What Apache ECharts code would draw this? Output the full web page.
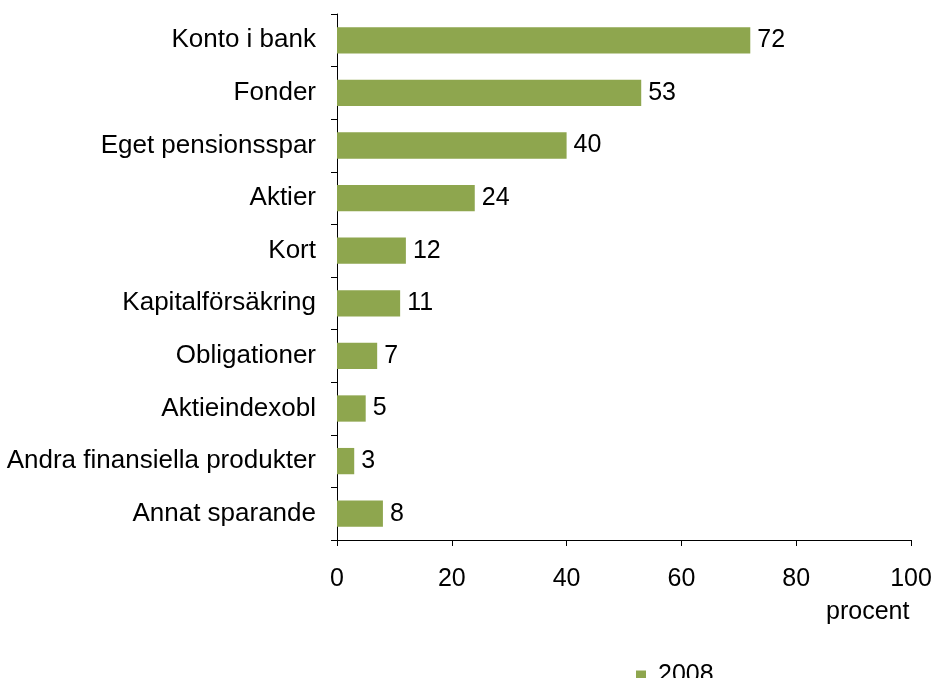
<!DOCTYPE html>
<html>
<head>
<meta charset="utf-8">
<script src="https://cdn.jsdelivr.net/npm/echarts@6/dist/echarts.min.js"></script>
<style>
html, body { margin: 0; padding: 0; background: #fff; }
#chart { width: 936px; height: 678px; }
</style>
</head>
<body>
<div id="chart"></div>
<script>
var categories = ['Konto i bank', 'Fonder', 'Eget pensionsspar', 'Aktier', 'Kort',
    'Kapitalförsäkring', 'Obligationer', 'Aktieindexobl', 'Andra finansiella produkter', 'Annat sparande'];
var values2008 = [72, 53, 40, 24, 12, 11, 7, 5, 3, 8];
var xTicks = [0, 20, 40, 60, 80, 100];

var myChart = echarts.init(document.getElementById('chart'));
var font = 'Liberation Sans, Arial, sans-serif';
var fs = 25;
option = {
    animation: false,
    textStyle: { fontFamily: font },
    grid: { left: 337, right: 25, top: 14, bottom: 138, containLabel: false },
    legend: {
        data: ['2008'],
        left: 631,
        top: 658,
        itemWidth: 10,
        itemHeight: 10,
        icon: 'rect',
        textStyle: { fontSize: fs, color: '#000', fontFamily: font, padding: [0, 0, 0, 7] }
    },
    xAxis: {
        type: 'value',
        min: xTicks[0],
        max: xTicks[xTicks.length - 1],
        interval: 20,
        splitLine: { show: false },
        axisLine: { show: true, lineStyle: { color: '#000', width: 1 } },
        axisTick: { show: true, length: 6, lineStyle: { color: '#000' } },
        axisLabel: { fontSize: fs, color: '#000', margin: 27, fontFamily: font }
    },
    yAxis: {
        type: 'category',
        data: categories,
        inverse: true,
        axisLine: { show: true, lineStyle: { color: '#000', width: 1 } },
        axisTick: { show: true, length: 6, lineStyle: { color: '#000' } },
        axisLabel: { fontSize: 26, color: '#000', margin: 21, fontFamily: font }
    },
    graphic: [{
        type: 'text',
        left: 826,
        top: 600,
        style: { text: 'procent', fontSize: fs, fill: '#000', fontFamily: font }
    }],
    series: [{
        name: '2008',
        type: 'bar',
        data: values2008,
        barCategoryGap: '50%',
        itemStyle: { color: '#8EA64E' },
        label: {
            show: true,
            position: 'right',
            distance: 7,
            fontSize: fs,
            color: '#000',
            fontFamily: font
        }
    }]
};
myChart.setOption(option);
</script>
</body>
</html>
